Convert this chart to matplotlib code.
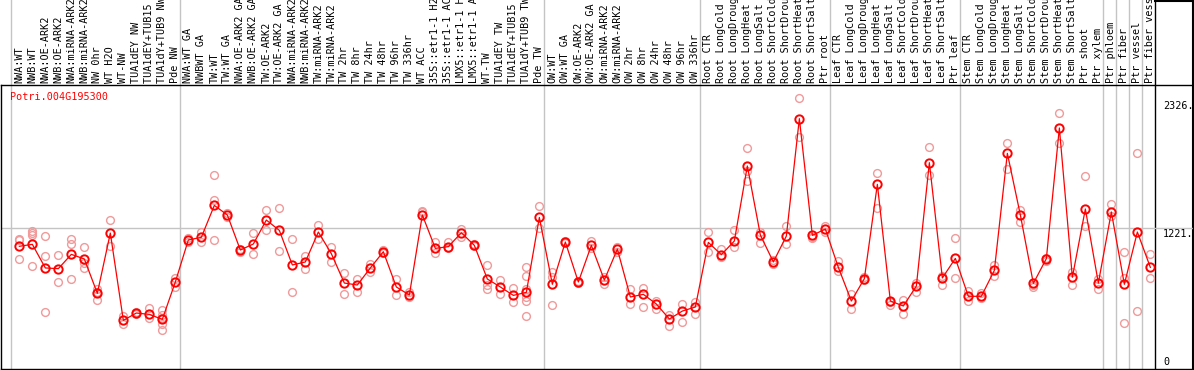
import numpy as np
import matplotlib
matplotlib.use("Agg")
import matplotlib.pyplot as plt
from matplotlib.lines import Line2D
import matplotlib.transforms as mtransforms

gene = "Potri.004G195300"

# sample groups (each group is separated by a vertical grid line)
groups = [
    ["NWA:WT", "NWB:WT", "NWA:OE-ARK2", "NWB:OE-ARK2", "NWA:miRNA-ARK2", "NWB:miRNA-ARK2",
     "NW 0hr", "WT H2O", "WT-NW", "TUA1dEY NW", "TUA1dEY+TUB15 NW", "TUA1dY+TUB9 NW", "Pde NW"],
    ["NWA:WT GA", "NWBWT GA", "TW:WT", "TW:WT GA", "NWA:OE-ARK2 GA", "NWB:OE-ARK2 GA",
     "TW:OE-ARK2", "TW:OE-ARK2 GA", "NWA:miRNA-ARK2", "NWB:miRNA-ARK2", "TW:miRNA-ARK2",
     "TW:miRNA-ARK2", "TW 2hr", "TW 8hr", "TW 24hr", "TW 48hr", "TW 96hr", "TW 336hr",
     "WT ACC", "35S::etr1-1 H2O", "35S::etr1-1 ACC", "LMX5::etr1-1 H2O", "LMX5::etr1-1 ACC",
     "WT-TW", "TUA1dEY TW", "TUA1dEY+TUB15 TW", "TUA1dY+TUB9 TW", "Pde TW"],
    ["OW:WT", "OW:WT GA", "OW:OE-ARK2", "OW:OE-ARK2 GA", "OW:miRNA-ARK2", "OW:miRNA-ARK2",
     "OW 2hr", "OW 8hr", "OW 24hr", "OW 48hr", "OW 96hr", "OW 336hr"],
    ["Root CTR", "Root LongCold", "Root LongDrought", "Root LongHeat", "Root LongSalt",
     "Root ShortCold", "Root ShortDrought", "Root ShortHeat", "Root ShortSalt", "Ptr root"],
    ["Leaf CTR", "Leaf LongCold", "Leaf LongDrought", "Leaf LongHeat", "Leaf LongSalt",
     "Leaf ShortCold", "Leaf ShortDrought", "Leaf ShortHeat", "Leaf ShortSalt", "Ptr leaf"],
    ["Stem CTR", "Stem LongCold", "Stem LongDrought", "Stem LongHeat", "Stem LongSalt",
     "Stem ShortCold", "Stem ShortDrought", "Stem ShortHeat", "Stem ShortSalt",
     "Ptr shoot", "Ptr xylem"],
    ["Ptr phloem"],
    ["Ptr fiber"],
    ["Ptr vessel"],
    ["Ptr fiber vessel"],
]

# mean expression per sample
means = [1065, 1082, 877, 871, 995, 955, 657, 1180, 422, 486, 474, 431, 755,
         1120, 1143, 1420, 1337, 1033, 1085, 1293, 1203, 903, 929, 1189, 1001, 746, 729,
         877, 1018, 712, 642, 1337, 1047, 1062, 1183, 1073, 781, 712, 639, 665, 1316,
         735, 1102, 755, 1073, 772, 1041, 625, 648, 564, 434, 503, 538,
         1099, 992, 1111, 1762, 1163, 929, 1154, 2173, 1160, 1215,
         882, 590, 784, 1603, 590, 547, 720, 1791, 790, 960,
         631, 631, 856, 1872, 1337, 743, 958, 2092, 796, 1389, 746,
         1363, 735, 1189, 882]

# individual replicates
reps = [
    [1131, 1117, 955], [1198, 1180, 1163, 891], [1154, 978, 492], [987, 755],
    [1128, 1085, 781], [1056, 917, 879], [697, 665, 596], [1293, 1065],
    [463, 393], [492, 480], [532, 446], [515, 469, 440, 388, 336], [790, 715],
    [1140, 1105], [1189, 1105], [1684, 1467, 1117], [1351, 1322], [1041, 1018],
    [1177, 995], [1377, 1203], [1394, 1021], [1128, 665], [978, 865], [1247, 1125],
    [1056, 932], [830, 648], [781, 665], [911, 839], [1030, 1004], [781, 642],
    [665, 625], [1374, 1360], [1105, 1004], [1099, 1047], [1215, 1149], [1082, 1065],
    [900, 729, 694], [772, 648], [703, 579], [882, 807, 694, 628, 593, 463], [1415, 1227],
    [845, 801, 555], [1114, 1091], [764, 746], [1114, 1047], [801, 741], [1062, 1018],
    [697, 561], [703, 538], [593, 524], [469, 376], [567, 411], [584, 480],
    [1189, 1018], [1041, 969], [1206, 1056], [1915, 1718, 1635], [1192, 1091],
    [945, 912], [1244, 1082], [2349, 2016], [1134, 1150], [1238, 1186],
    [940, 851], [651, 524], [796, 772], [1704, 1394], [584, 555], [599, 480],
    [749, 665], [1924, 1684], [807, 729], [1140, 787],
    [674, 593], [657, 613], [903, 810], [1959, 1733], [1380, 1279], [729, 715],
    [965, 940], [2219, 1964], [839, 726], [1675, 1244], [781, 694], [1432, 1331],
    [1018, 793, 399], [1872, 500], [998, 787],
]

ytick_vals = [0, 1221, 2326]
ytick_text = ["0", "1221.", "2326."]

samples = [s for g in groups for s in g]
x = np.arange(len(samples))
starts = np.cumsum([0] + [len(g) for g in groups])

W, H = 1194, 370
fig = plt.figure(figsize=(W / 100, H / 100), dpi=100)
ax = fig.add_axes([1 / W, 1 / H, 1192 / W, 284 / H])
ax.set_xlim(-1.41, 90.28)
ax.set_ylim(0, 2465)
ax.set_xticks([])
ax.set_yticks([])
for sp in ax.spines.values():
    sp.set_color("black")
    sp.set_linewidth(1.0)

mono = "DejaVu Sans Mono"
grey = "#c4c4c4"

# group separators run up through the header
top_ext = 1 + 85 / 284
for s in starts[:-1]:
    ax.axvline(s - 0.63, ymin=0, ymax=top_ext, color=grey, lw=1.0, clip_on=False, zorder=1)
ax.axvline(starts[-1] - 0.63, ymin=0, ymax=top_ext, color="black", lw=1.0, clip_on=False, zorder=1)
ax.axvline(90.26, ymin=0, ymax=top_ext, color="black", lw=1.5, clip_on=False, zorder=1)
ax.axhline(1221, color=grey, lw=1.0, zorder=1)
fig.add_artist(Line2D([1155 / W, 1.0], [0.998, 0.998], color="black", lw=1.5))

# replicates
for xi, r in zip(x, reps):
    ax.plot([xi] * len(r), r, ls="none", marker="o", ms=5.6, mfc="none",
            mec="#f09a9a", mew=1.0, zorder=2)

# mean line
ax.plot(x, means, color="red", lw=0.9, marker="o", ms=6.0, mfc="none",
        mec="red", mew=1.4, zorder=3)

# header labels
trans = mtransforms.blended_transform_factory(ax.transData, ax.transAxes)
for xi, lab in zip(x, samples):
    ax.text(xi, 1 + 2 / 284, lab, rotation=90, ha="center", va="bottom",
            transform=trans, fontsize=7.3, family=mono, clip_on=False)

ax.text(9 / 1192, 1 - 12 / 284, gene, color="red", fontsize=7.3, family=mono,
        transform=ax.transAxes, ha="left", va="center")

# value labels on the right
for v, t in zip(ytick_vals, ytick_text):
    va = "bottom" if v == 0 else "top"
    off = 20 if v == 0 else -4
    ax.text(1162 / 1192, v + off, t, fontsize=7.3, family=mono, ha="left", va=va,
            transform=mtransforms.blended_transform_factory(ax.transAxes, ax.transData))

fig.savefig("out.png", dpi=100)
